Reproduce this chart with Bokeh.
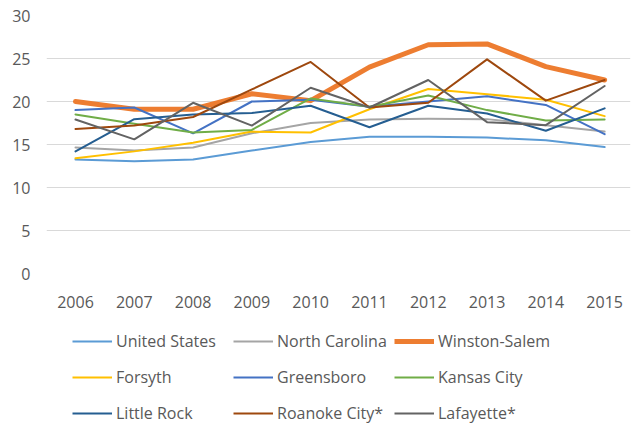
from bokeh.plotting import figure
from bokeh.models import Legend, LegendItem, FixedTicker, Range1d
from bokeh.layouts import column
from bokeh.embed import file_html
from bokeh.resources import INLINE

years = [2006, 2007, 2008, 2009, 2010, 2011, 2012, 2013, 2014, 2015]

united_states = [13.25, 13.05, 13.25, 14.3, 15.3, 15.9, 15.9, 15.8, 15.5, 14.7]
north_carolina = [14.65, 14.3, 14.65, 16.3, 17.5, 17.9, 18.0, 17.95, 17.25, 16.5]
winston_salem = [20.0, 19.1, 19.1, 20.9, 20.1, 24.0, 26.6, 26.7, 24.05, 22.5]
forsyth = [13.4, 14.2, 15.2, 16.5, 16.4, 19.1, 21.45, 20.85, 20.2, 18.3]
greensboro = [19.0, 19.3, 16.3, 20.0, 20.2, 19.4, 20.0, 20.6, 19.6, 16.2]
kansas_city = [18.5, 17.4, 16.4, 16.7, 20.35, 19.4, 20.7, 19.0, 17.8, 17.9]
little_rock = [14.2, 17.95, 18.5, 18.65, 19.5, 17.0, 19.5, 18.6, 16.6, 19.2]
roanoke_city = [16.8, 17.2, 18.2, 21.4, 24.6, 19.3, 19.85, 24.9, 20.1, 22.5]
lafayette = [17.9, 15.6, 19.85, 17.2, 21.6, 19.3, 22.5, 17.6, 17.25, 21.8]

series_names = ["United States", "North Carolina", "Winston-Salem", "Forsyth",
                "Greensboro", "Kansas City", "Little Rock", "Roanoke City*", "Lafayette*"]
series_values = [united_states, north_carolina, winston_salem, forsyth,
                 greensboro, kansas_city, little_rock, roanoke_city, lafayette]
series_colors = ["#5B9BD5", "#A5A5A5", "#ED7D31", "#FFC000", "#4472C4",
                 "#70AD47", "#255E91", "#9E480E", "#636363"]
series_widths = [2, 2, 5, 2, 2, 2, 2, 2, 2]

y_ticks = [0, 5, 10, 15, 20, 25, 30]

FONT = "Open Sans"
TXT = "#595959"

p = figure(width=631, height=320, output_backend="svg", toolbar_location=None,
           x_range=Range1d(2005.507, 2015.44), y_range=Range1d(0, 30),
           min_border_left=46, min_border_right=1, min_border_top=15, min_border_bottom=47)
p.outline_line_color = None
p.background_fill_color = "white"
p.border_fill_color = "white"

for name, vals, col, w in zip(series_names, series_values, series_colors, series_widths):
    p.line(years, vals, line_color=col, line_width=w, line_join="round", line_cap="round")

p.xgrid.grid_line_color = None
p.ygrid.grid_line_color = "#D9D9D9"
p.ygrid.grid_line_width = 1
p.yaxis.ticker = FixedTicker(ticks=y_ticks)
p.xaxis.ticker = FixedTicker(ticks=years)

for ax in (p.xaxis[0], p.yaxis[0]):
    ax.axis_line_color = None
    ax.major_tick_line_color = None
    ax.minor_tick_line_color = None
    ax.major_label_text_font = FONT
    ax.major_label_text_font_size = "16px"
    ax.major_label_text_color = TXT
p.yaxis.major_label_standoff = 10
p.xaxis.major_label_standoff = 16

# legend in its own strip below the chart (three columns of three entries)
lg = figure(width=631, height=104, output_backend="svg", toolbar_location=None,
            x_range=Range1d(0, 1), y_range=Range1d(0, 1),
            min_border_left=46, min_border_right=1, min_border_top=0, min_border_bottom=0)
lg.axis.visible = False
lg.grid.visible = False
lg.outline_line_color = None
lg.border_fill_color = "white"
lg.background_fill_color = "white"

items = []
for name, col, w in zip(series_names, series_colors, series_widths):
    # off-frame stub renderer, used only for the legend swatch
    r = lg.line([-3, -2], [-3, -2], line_color=col, line_width=w)
    items.append(LegendItem(label=name, renderers=[r]))

col_offsets = [26, 187, 348]
for c, xo in enumerate(col_offsets):
    col_items = [items[c + 3 * k] for k in range(3)]
    legend = Legend(items=col_items, location=(xo, 0), orientation="vertical",
                    glyph_width=40, glyph_height=22, label_standoff=4,
                    label_text_font=FONT, label_text_font_size="16px", label_text_color=TXT,
                    label_height=22, spacing=14, padding=0, margin=0,
                    border_line_color=None, background_fill_alpha=0)
    lg.add_layout(legend, "center")

layout = column(p, lg, spacing=0)
open("out.html", "w").write(file_html(layout, INLINE))
